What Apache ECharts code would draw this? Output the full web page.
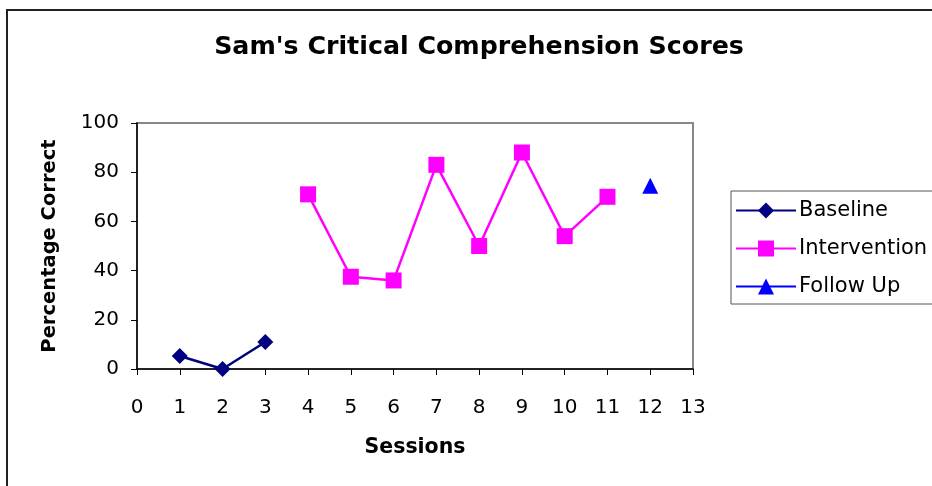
<!DOCTYPE html>
<html>
<head>
<meta charset="utf-8">
<script src="https://cdn.jsdelivr.net/npm/echarts@6/dist/echarts.min.js"></script>
<style>
  html, body { margin: 0; padding: 0; background: #fff; }
  #main { width: 932px; height: 486px; }
</style>
</head>
<body>
<div id="main"></div>
<script>
// sessions + scores
var baselineSessions = [1, 2, 3]
var baselineScores = [5.3, 0, 11]
var interventionSessions = [4, 5, 6, 7, 8, 9, 10, 11]
var interventionScores = [71, 37.5, 36, 83, 50, 88, 54, 70]
var followUpSessions = [12]
var followUpScores = [74.5]

function pairs(xs, ys) {
  return xs.map(function (x, i) { return [x, ys[i]] })
}

var font = 'DejaVu Sans, Arial, sans-serif'
var chart = echarts.init(document.getElementById('main'))

chart.setOption({
  animation: false,
  backgroundColor: '#fff',
  textStyle: { fontFamily: font },
  title: {
    text: "Sam's Critical Comprehension Scores",
    left: 474,
    textAlign: 'center',
    top: 30,
    textStyle: { fontSize: 25.3, fontWeight: 'bold', color: '#000', fontFamily: font }
  },
  // outer chart frame
  graphic: [{
    type: 'rect',
    shape: { x: 7, y: 10, width: 940, height: 500 },
    style: { fill: 'none', stroke: '#222', lineWidth: 2 },
    silent: true
  }],
  legend: {
    orient: 'vertical',
    left: 731,
    top: 191,
    padding: [9, 40, 7, 4],
    itemGap: 17,
    itemWidth: 60,
    itemHeight: 20,
    borderColor: '#555',
    borderWidth: 1,
    textStyle: { fontSize: 21, color: '#000', fontFamily: font, padding: [0, 0, 0, -2] },
    data: ['Baseline', 'Intervention', 'Follow Up']
  },
  grid: {
    left: 137,
    right: 239,
    top: 123,
    bottom: 117,
    show: true,
    borderColor: '#888',
    borderWidth: 2
  },
  xAxis: {
    type: 'value',
    min: 0,
    max: 13,
    interval: 1,
    name: 'Sessions',
    nameLocation: 'middle',
    nameGap: 68,
    nameTextStyle: { fontSize: 20.5, fontWeight: 'bold', color: '#000', fontFamily: font },
    axisLine: { lineStyle: { color: '#000', width: 1.5 } },
    axisTick: { length: 6, lineStyle: { color: '#000' } },
    axisLabel: { fontSize: 20, color: '#000', margin: 29, fontFamily: font },
    splitLine: { show: false }
  },
  yAxis: {
    type: 'value',
    min: 0,
    max: 100,
    interval: 20,
    name: 'Percentage Correct',
    nameLocation: 'middle',
    nameGap: 77,
    nameTextStyle: { fontSize: 19.5, fontWeight: 'bold', color: '#000', fontFamily: font },
    axisLine: { show: true, lineStyle: { color: '#000', width: 1.5 } },
    axisTick: { show: true, length: 6, lineStyle: { color: '#000' } },
    axisLabel: { fontSize: 20, color: '#000', margin: 18, fontFamily: font },
    splitLine: { show: false }
  },
  series: [
    {
      name: 'Baseline',
      type: 'line',
      data: pairs(baselineSessions, baselineScores),
      symbol: 'diamond',
      symbolSize: 16,
      color: '#000080',
      lineStyle: { width: 2.5, color: '#000080' },
      itemStyle: { color: '#000080' }
    },
    {
      name: 'Intervention',
      type: 'line',
      data: pairs(interventionSessions, interventionScores),
      symbol: 'rect',
      symbolSize: 16,
      color: '#ff00ff',
      lineStyle: { width: 2.5, color: '#ff00ff' },
      itemStyle: { color: '#ff00ff' }
    },
    {
      name: 'Follow Up',
      type: 'line',
      data: pairs(followUpSessions, followUpScores),
      symbol: 'triangle',
      symbolSize: 16,
      color: '#0000ff',
      lineStyle: { width: 2.5, color: '#0000ff' },
      itemStyle: { color: '#0000ff' }
    }
  ]
})
</script>
</body>
</html>
